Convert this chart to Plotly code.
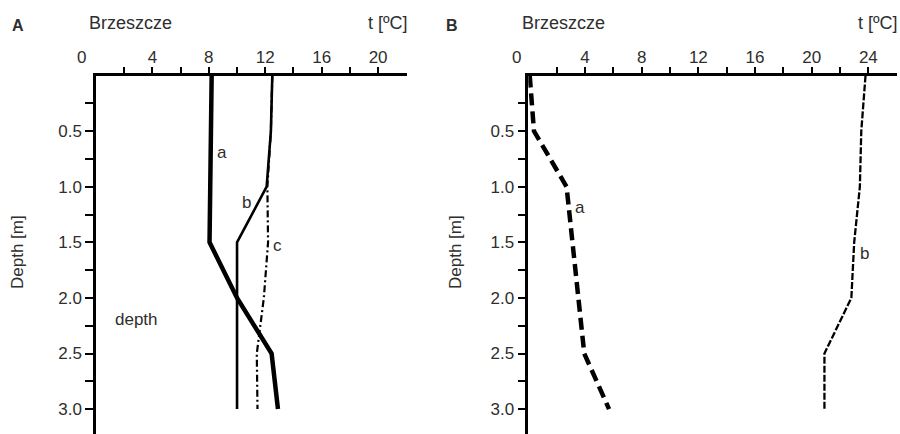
import plotly.graph_objects as go

# ---------------- data ----------------
# Panel A (Brzeszcze)
depth_A_a = [0.0, 1.5, 2.0, 2.5, 3.0]
temp_A_a = [8.2, 8.05, 10.0, 12.45, 12.9]
depth_A_b = [0.0, 0.5, 1.0, 1.5, 3.0]
temp_A_b = [12.5, 12.4, 12.1, 10.0, 10.0]
depth_A_c = [0.0, 0.5, 1.0, 1.5, 2.0, 2.5, 3.0]
temp_A_c = [12.5, 12.4, 12.15, 12.2, 11.9, 11.4, 11.45]
# Panel B (Brzeszcze)
depth_B = [0.0, 0.5, 1.0, 1.5, 2.0, 2.5, 3.0]
temp_B_a = [0.1, 0.4, 2.7, 3.1, 3.5, 3.95, 5.7]
temp_B_b = [23.8, 23.5, 23.4, 23.0, 22.8, 20.9, 20.9]

x_ticks_A = [4, 8, 12, 16, 20]
x_minor_A = [2, 6, 10, 14, 18]
x_ticks_B = [4, 8, 12, 16, 20, 24]
x_minor_B = [2, 6, 10, 14, 18, 22]
y_ticks = [0.5, 1.0, 1.5, 2.0, 2.5, 3.0]
y_minor = [0.25, 0.75, 1.25, 1.75, 2.25, 2.75]

W, H = 900, 434
TXT = "#2e2e2e"
FONT = "Liberation Sans, Arial, sans-serif"

fig = go.Figure()

# Panel A curves
fig.add_trace(go.Scatter(x=temp_A_c, y=depth_A_c, mode="lines", xaxis="x", yaxis="y",
                         line=dict(color="black", width=2.2, dash="7px,3px,2px,3px")))
fig.add_trace(go.Scatter(x=temp_A_b, y=depth_A_b, mode="lines", xaxis="x", yaxis="y",
                         line=dict(color="black", width=2.6)))
fig.add_trace(go.Scatter(x=temp_A_a, y=depth_A_a, mode="lines", xaxis="x", yaxis="y",
                         line=dict(color="black", width=4.5)))
# Panel B curves
fig.add_trace(go.Scatter(x=temp_B_a, y=depth_B, mode="lines", xaxis="x2", yaxis="y2",
                         line=dict(color="black", width=4.5, dash="12px,6px")))
fig.add_trace(go.Scatter(x=temp_B_b, y=depth_B, mode="lines", xaxis="x2", yaxis="y2",
                         line=dict(color="black", width=2.3, dash="7px,2px")))

top = 75.5
ydom = [0, 1 - top / H]
yrange = [(H - top) / 111.2, 0]

def xax(dom, rng, ticks, minor):
    return dict(domain=dom, range=rng, side="top", showline=True, linecolor="black",
                linewidth=2.5, showgrid=False, zeroline=False, ticks="outside",
                ticklen=6, tickwidth=2, tickcolor="black", tickmode="array",
                tickvals=ticks, ticktext=[str(t) for t in ticks],
                tickfont=dict(size=17, color=TXT, family=FONT),
                ticklabelstandoff=-3,
                minor=dict(tickmode="array", tickvals=minor, ticks="outside",
                           ticklen=6, tickwidth=2, tickcolor="black"),
                fixedrange=True, automargin=False)

def yax(anchor):
    return dict(domain=ydom, range=yrange, anchor=anchor, showline=True,
                linecolor="black", linewidth=2.5, showgrid=False, zeroline=False,
                ticks="outside", ticklen=8, tickwidth=2, tickcolor="black",
                tickmode="array", tickvals=y_ticks,
                ticktext=[f"{v:.1f}" for v in y_ticks],
                tickfont=dict(size=17, color=TXT, family=FONT),
                minor=dict(tickmode="array", tickvals=y_minor, ticks="outside",
                           ticklen=8, tickwidth=2, tickcolor="black"),
                fixedrange=True, automargin=False)

fig.update_layout(
    width=W, height=H, margin=dict(l=0, r=0, t=0, b=0),
    paper_bgcolor="white", plot_bgcolor="white", showlegend=False,
    font=dict(family=FONT, color=TXT),
    xaxis=dict(xax([96 / W, 407 / W], [0, 22.05], x_ticks_A, x_minor_A), anchor="y"),
    yaxis=yax("x"),
    xaxis2=dict(xax([528.3 / W, 896.7 / W], [0, 26.0], x_ticks_B, x_minor_B), anchor="y2"),
    yaxis2=yax("x2"),
)

def px(xp, yp):
    return xp / W, 1 - yp / H

ann = []
def paper_text(text, xp, yp, size, bold=False, angle=0):
    x, y = px(xp, yp)
    ann.append(dict(text=f"<b>{text}</b>" if bold else text, x=x, y=y,
                    xref="paper", yref="paper", showarrow=False, textangle=angle,
                    xanchor="center", yanchor="middle",
                    font=dict(size=size, color=TXT, family=FONT)))

paper_text("A", 18, 25, 16, bold=True)
paper_text("Brzeszcze", 130, 23, 18)
paper_text("t [ºC]", 388, 23, 18)
paper_text("B", 452, 25, 16, bold=True)
paper_text("Brzeszcze", 563, 23, 18)
paper_text("t [ºC]", 878, 23, 18)
paper_text("Depth [m]", 17, 252, 17, angle=-90)
paper_text("Depth [m]", 455, 252, 17, angle=-90)
# the "0" labels of the temperature axes sit left of the depth axes
paper_text("0", 81, 58, 17)
paper_text("0", 516.7, 58, 17)

def data_text(text, x, y, xr, yr, size=17):
    ann.append(dict(text=text, x=x, y=y, xref=xr, yref=yr, showarrow=False,
                    xanchor="center", yanchor="middle",
                    font=dict(size=size, color=TXT, family=FONT)))

data_text("a", 8.9, 0.69, "x", "y")
data_text("b", 10.7, 1.14, "x", "y")
data_text("c", 12.9, 1.53, "x", "y")
data_text("depth", 2.9, 2.19, "x", "y")
data_text("a", 3.65, 1.19, "x2", "y2")
data_text("b", 23.75, 1.6, "x2", "y2")

fig.update_layout(annotations=ann)
fig.write_html("out.html")
